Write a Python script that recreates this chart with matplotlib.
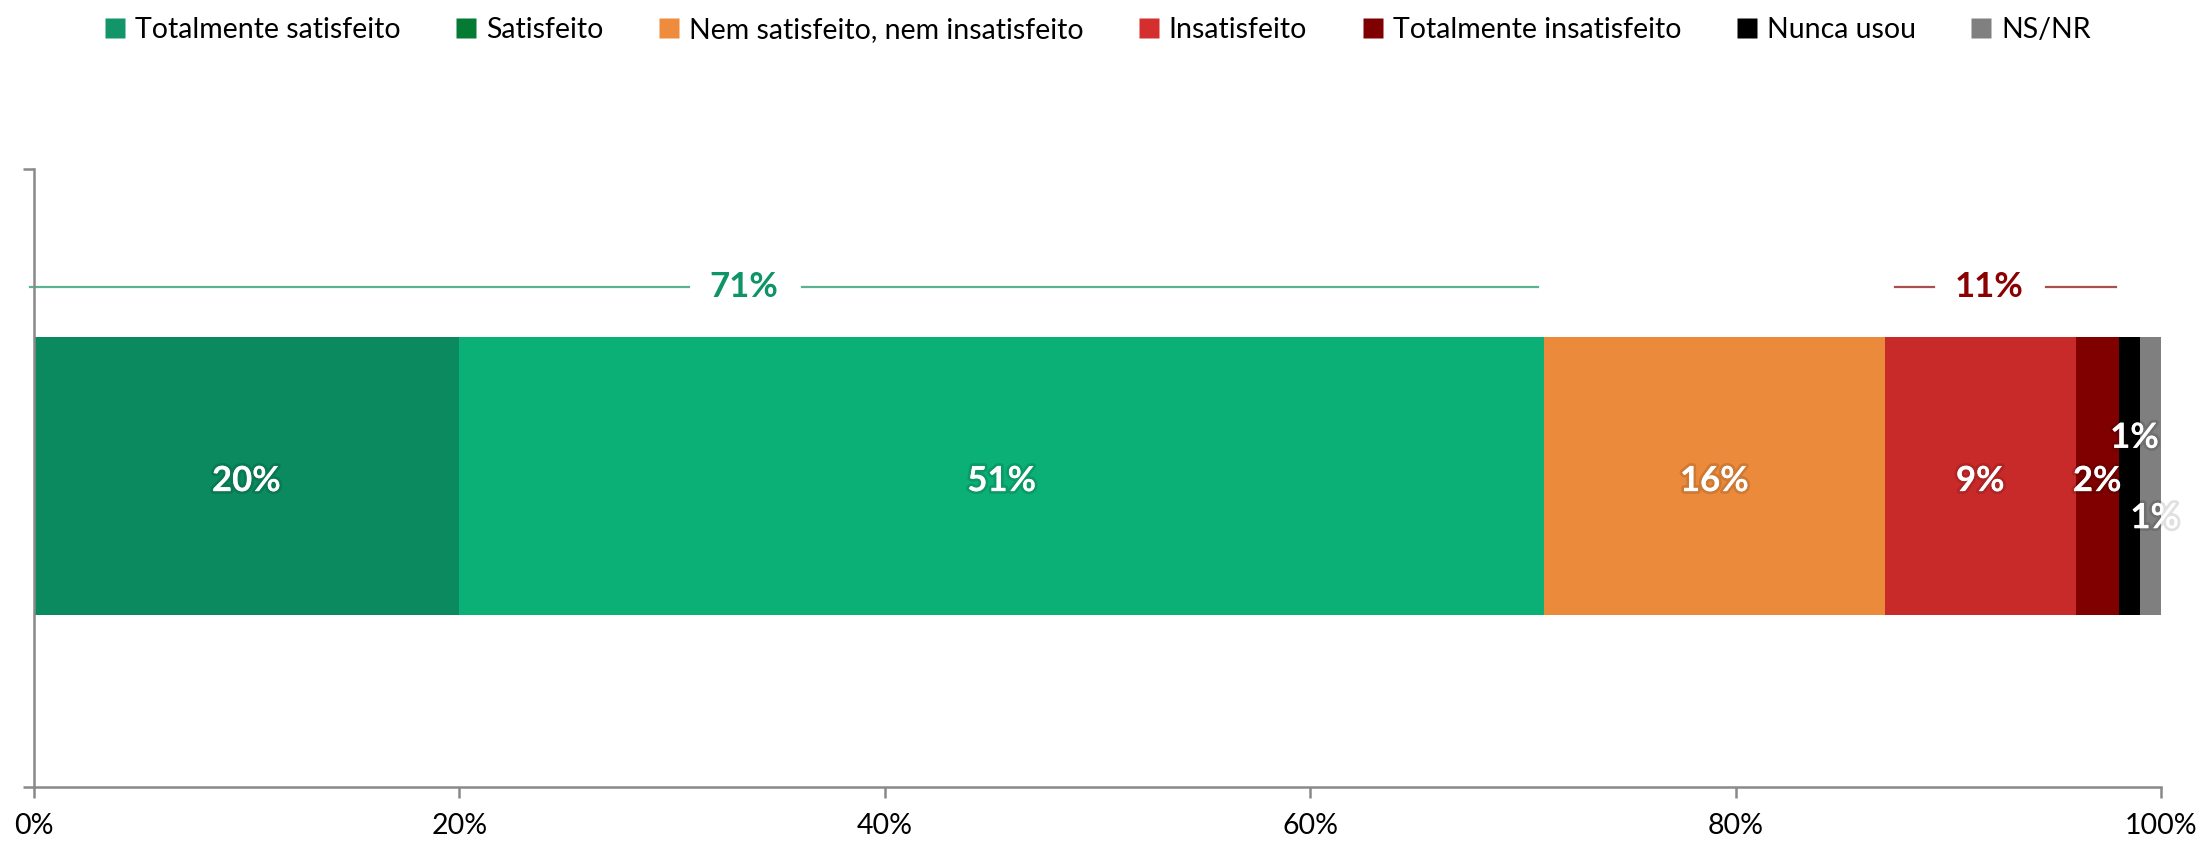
import matplotlib.pyplot as plt
import matplotlib.patheffects as pe
from matplotlib.lines import Line2D

plt.rcParams["font.family"] = ["Lato", "DejaVu Sans"]

categories = ["Totalmente satisfeito", "Satisfeito", "Nem satisfeito, nem insatisfeito",
              "Insatisfeito", "Totalmente insatisfeito", "Nunca usou", "NS/NR"]
values = [20, 51, 16, 9, 2, 1, 1]
bar_colors = ["#0A8A5E", "#0BB077", "#EC8A3B", "#C82A29", "#800000", "#000000", "#7F7F7F"]
legend_colors = ["#13956A", "#047A33", "#EE8B3C", "#D42E2E", "#7F0000", "#000000", "#808080"]
# label offsets (x in %, y in axis data) for the crowded small segments
label_offsets = [(0, 0), (0, 0), (0, 0), (0, 0), (0, 0), (0.25, 0.07), (0.2, -0.06)]

group_pos = 71  # positivos
group_neg = 11  # negativos
xticks = [0, 20, 40, 60, 80, 100]

fig = plt.figure(figsize=(22.03, 8.42), dpi=100)
ax = fig.add_axes([0.0153, 0.0653, 0.9657, 0.7340])

glow = [pe.withStroke(linewidth=4, foreground=(0, 0, 0, 0.12))]

y_center = 0.503
bar_h = 0.45
left = 0
for v, c, (dx, dy) in zip(values, bar_colors, label_offsets):
    ax.barh(y_center, v, left=left, height=bar_h, color=c, edgecolor="none")
    ax.text(left + v / 2 + dx, y_center - 0.008 + dy, f"{v}%", ha="center", va="center",
            color="white", fontsize=25, fontweight="bold", path_effects=glow)
    left += v

# bracket lines with totals
line_y = 0.809
pos_color, pos_line = "#0E9466", "#5BB390"
neg_color, neg_line = "#8B0000", "#A85050"
ax.plot([-0.17, 30.8], [line_y, line_y], color=pos_line, lw=1.6, clip_on=False)
ax.plot([36.1, 70.7], [line_y, line_y], color=pos_line, lw=1.6, clip_on=False)
ax.text(33.4, line_y, f"{group_pos}%", ha="center", va="center", color=pos_color,
        fontsize=25, fontweight="bold")
ax.plot([87.5, 89.3], [line_y, line_y], color=neg_line, lw=1.6, clip_on=False)
ax.plot([94.6, 97.9], [line_y, line_y], color=neg_line, lw=1.6, clip_on=False)
ax.text(91.9, line_y, f"{group_neg}%", ha="center", va="center", color=neg_color,
        fontsize=25, fontweight="bold")

ax.set_xlim(0, 100)
ax.set_ylim(0, 1)
ax.set_xticks(xticks)
ax.set_xticklabels([f"{t}%" for t in xticks], fontsize=20.5)
ax.set_yticks([0, 1])
ax.set_yticklabels([])
ax.tick_params(axis="both", direction="out", length=8, width=1.8, color="#898989", pad=11)
for s in ["top", "right"]:
    ax.spines[s].set_visible(False)
for s in ["left", "bottom"]:
    ax.spines[s].set_color("#898989")
    ax.spines[s].set_linewidth(1.8)

handles = [Line2D([], [], marker="s", linestyle="none", markersize=15,
                  markerfacecolor=c, markeredgecolor="none") for c in legend_colors]
fig.legend(handles, categories, loc="upper center", bbox_to_anchor=(0.498, 1.01), ncol=7,
           frameon=False, fontsize=20.5, handlelength=0.8, handletextpad=0.3, columnspacing=1.9)

fig.savefig("out.png", dpi=100)
